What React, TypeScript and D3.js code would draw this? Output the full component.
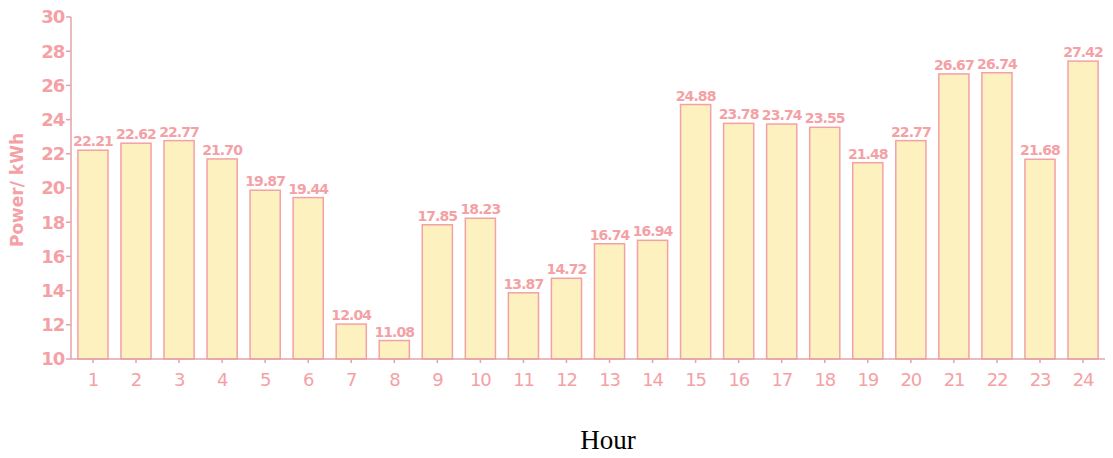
import React from "react";
import * as d3 from "d3";

const hours: string[] = Array.from({ length: 24 }, (_, i) => String(i + 1));
const powerValues: number[] = [
  22.21, 22.62, 22.77, 21.7, 19.87, 19.44, 12.04, 11.08, 17.85, 18.23, 13.87, 14.72,
  16.74, 16.94, 24.88, 23.78, 23.74, 23.55, 21.48, 22.77, 26.67, 26.74, 21.68, 27.42,
];
const yTicks: number[] = [10, 12, 14, 16, 18, 20, 22, 24, 26, 28, 30];

const W = 1113;
const H = 458;
const M = { left: 71, right: 8, top: 17, bottom: 99 };
const PINK = "#f4a1a6";
const AXIS = "#e3a3a8";
const FONT = "'DejaVu Sans', sans-serif";

export default function App() {
  const x = d3
    .scaleBand<string>()
    .domain(hours)
    .range([M.left, W - M.right])
    .paddingInner(0.3)
    .paddingOuter(0.16);
  const y = d3.scaleLinear().domain([10, 30]).range([H - M.bottom, M.top]);
  const y0 = y(10);

  return (
    <svg
      width={W}
      height={H}
      style={{ position: "absolute", left: 0, top: 0, background: "#fff" }}
    >
      {hours.map((h, i) => {
        const v = powerValues[i];
        const bx = x(h)!;
        return (
          <g key={h}>
            <rect
              x={bx}
              y={y(v)}
              width={x.bandwidth()}
              height={y0 - y(v)}
              fill="#fdf1c0"
              stroke={PINK}
              strokeWidth={1.5}
            />
            <text
              x={bx + x.bandwidth() / 2}
              y={y(v) - 4}
              textAnchor="middle"
              fill={PINK}
              fontFamily={FONT}
              fontSize={14}
              fontWeight={600}
              letterSpacing={-0.9}
            >
              {v.toFixed(2)}
            </text>
          </g>
        );
      })}
      {/* y axis */}
      <line x1={M.left} x2={M.left} y1={M.top} y2={y0} stroke={AXIS} strokeWidth={1.5} />
      {yTicks.map((t) => (
        <g key={t}>
          <line x1={M.left - 5} x2={M.left} y1={y(t)} y2={y(t)} stroke={AXIS} strokeWidth={1.5} />
          <text
            x={M.left - 7}
            y={y(t)}
            dy="0.35em"
            textAnchor="end"
            fill={PINK}
            fontFamily={FONT}
            fontSize={18}
            fontWeight={600}
            letterSpacing={-1.2}
          >
            {t}
          </text>
        </g>
      ))}
      {/* x axis */}
      <line x1={M.left} x2={W - M.right} y1={y0} y2={y0} stroke={AXIS} strokeWidth={1.5} />
      {hours.map((h) => {
        const cx = x(h)! + x.bandwidth() / 2;
        return (
          <g key={h}>
            <line x1={cx} x2={cx} y1={y0} y2={y0 + 4} stroke={AXIS} strokeWidth={1.5} />
            <text
              x={cx}
              y={y0 + 27}
              textAnchor="middle"
              fill={PINK}
              fontFamily={FONT}
              fontSize={18}
              letterSpacing={-1.2}
            >
              {h}
            </text>
          </g>
        );
      })}
      <text
        transform={`translate(23, ${(M.top + y0) / 2 + 2}) rotate(-90)`}
        textAnchor="middle"
        fill={PINK}
        fontFamily={FONT}
        fontSize={17}
        fontWeight={600}
      >
        Power/ kWh
      </text>
      <text
        x={608}
        y={449}
        textAnchor="middle"
        fill="#000"
        fontFamily="'Liberation Serif', 'Times New Roman', serif"
        fontSize={27}
      >
        Hour
      </text>
    </svg>
  );
}
